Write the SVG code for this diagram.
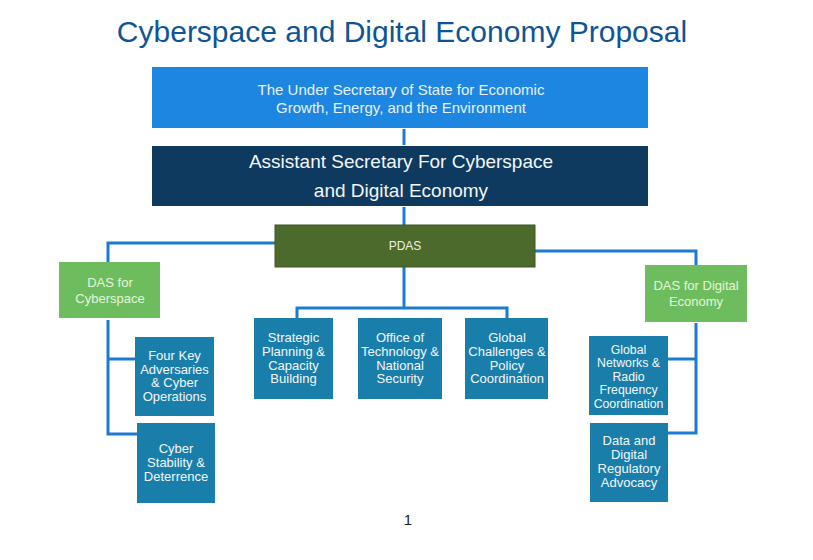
<svg xmlns="http://www.w3.org/2000/svg" width="813" height="560" viewBox="0 0 813 560">
<style>
text{font-family:"Liberation Sans",Arial,sans-serif;text-anchor:middle}
.title{font-size:30px;fill:#0f5494}
.top{fill:#1c86e0}
.asst{fill:#0f3a60}
.pdas{fill:#4b6a2c;stroke:#3c5622;stroke-width:1}
.das{fill:#6dbd5e}
.unit{fill:#1a7eaa}
.t1{font-size:15px;fill:#e6f2ff}
.t2{font-size:19px;fill:#f2f6fa}
.tp{font-size:12px;fill:#eef2e6}
.td{font-size:13px;fill:#e4f5dc}
.tu{font-size:13px;fill:#f2f8fb}
.tu.s{font-size:12.3px}
.conn{fill:none;stroke:#1b7bd0;stroke-width:3}
</style>
<rect width="813" height="560" fill="#ffffff"/>
<text class="title" x="402" y="42">Cyberspace and Digital Economy Proposal</text>
<g id="connectors">
<path class="conn" d="M404 129 V145"/>
<path class="conn" d="M404 207 V225"/>
<path class="conn" d="M275 243 H108 V262"/>
<path class="conn" d="M535 251 H696 V265"/>
<path class="conn" d="M404 267 V308 M297 318 V308 H507 V318"/>
<path class="conn" d="M108 320 V434 H137 M108 359 H135"/>
<path class="conn" d="M696 323 V433 H668 M696 359 H668"/>
</g>
<g id="under-secretary">
<rect class="top" x="152" y="67" width="496" height="61"/>
<text class="t1" x="401" y="95">The Under Secretary of State for Economic</text>
<text class="t1" x="401" y="113">Growth, Energy, and the Environment</text>
</g>
<g id="assistant-secretary">
<rect class="asst" x="152" y="146" width="496" height="60"/>
<text class="t2" x="401" y="168">Assistant Secretary For Cyberspace</text>
<text class="t2" x="401" y="197">and Digital Economy</text>
</g>
<g id="pdas">
<rect class="pdas" x="275" y="225" width="260" height="42"/>
<text class="tp" x="405" y="250">PDAS</text>
</g>
<g id="das-cyberspace">
<rect class="das" x="59" y="262" width="101" height="56"/>
<text class="td" x="110" y="287">DAS for</text>
<text class="td" x="110" y="303">Cyberspace</text>
</g>
<g id="das-digital">
<rect class="das" x="645" y="265" width="102" height="57"/>
<text class="td" x="696" y="290">DAS for Digital</text>
<text class="td" x="696" y="306">Economy</text>
</g>
<g id="strategic-planning">
<rect class="unit" x="254" y="318" width="79" height="81"/>
<text class="tu" x="293.5" y="342">Strategic</text>
<text class="tu" x="293.5" y="356">Planning &amp;</text>
<text class="tu" x="293.5" y="369.5">Capacity</text>
<text class="tu" x="293.5" y="383">Building</text>
</g>
<g id="office-technology">
<rect class="unit" x="358" y="318" width="84" height="81"/>
<text class="tu" x="400" y="342">Office of</text>
<text class="tu" x="400" y="356">Technology &amp;</text>
<text class="tu" x="400" y="369.5">National</text>
<text class="tu" x="400" y="383">Security</text>
</g>
<g id="global-challenges">
<rect class="unit" x="465" y="318" width="83" height="81"/>
<text class="tu" x="507" y="342">Global</text>
<text class="tu" x="507" y="356">Challenges &amp;</text>
<text class="tu" x="507" y="369.5">Policy</text>
<text class="tu" x="507" y="383">Coordination</text>
</g>
<g id="four-key-adversaries">
<rect class="unit" x="135" y="337" width="79" height="79"/>
<text class="tu" x="174.5" y="360">Four Key</text>
<text class="tu" x="174.5" y="373.5">Adversaries</text>
<text class="tu" x="174.5" y="387">&amp; Cyber</text>
<text class="tu" x="174.5" y="401">Operations</text>
</g>
<g id="cyber-stability">
<rect class="unit" x="137" y="423" width="78" height="80"/>
<text class="tu" x="176" y="453">Cyber</text>
<text class="tu" x="176" y="467">Stability &amp;</text>
<text class="tu" x="176" y="481">Deterrence</text>
</g>
<g id="global-networks">
<rect class="unit" x="589" y="336" width="79" height="79"/>
<text class="tu s" x="628.5" y="353.5">Global</text>
<text class="tu s" x="628.5" y="367">Networks &amp;</text>
<text class="tu s" x="628.5" y="380.5">Radio</text>
<text class="tu s" x="628.5" y="394">Frequency</text>
<text class="tu s" x="628.5" y="407.5">Coordination</text>
</g>
<g id="data-digital">
<rect class="unit" x="590" y="423" width="78" height="79"/>
<text class="tu" x="629" y="445">Data and</text>
<text class="tu" x="629" y="459">Digital</text>
<text class="tu" x="629" y="473">Regulatory</text>
<text class="tu" x="629" y="487">Advocacy</text>
</g>
<text x="408" y="525" style="font-size:15px;fill:#222">1</text>
</svg>
